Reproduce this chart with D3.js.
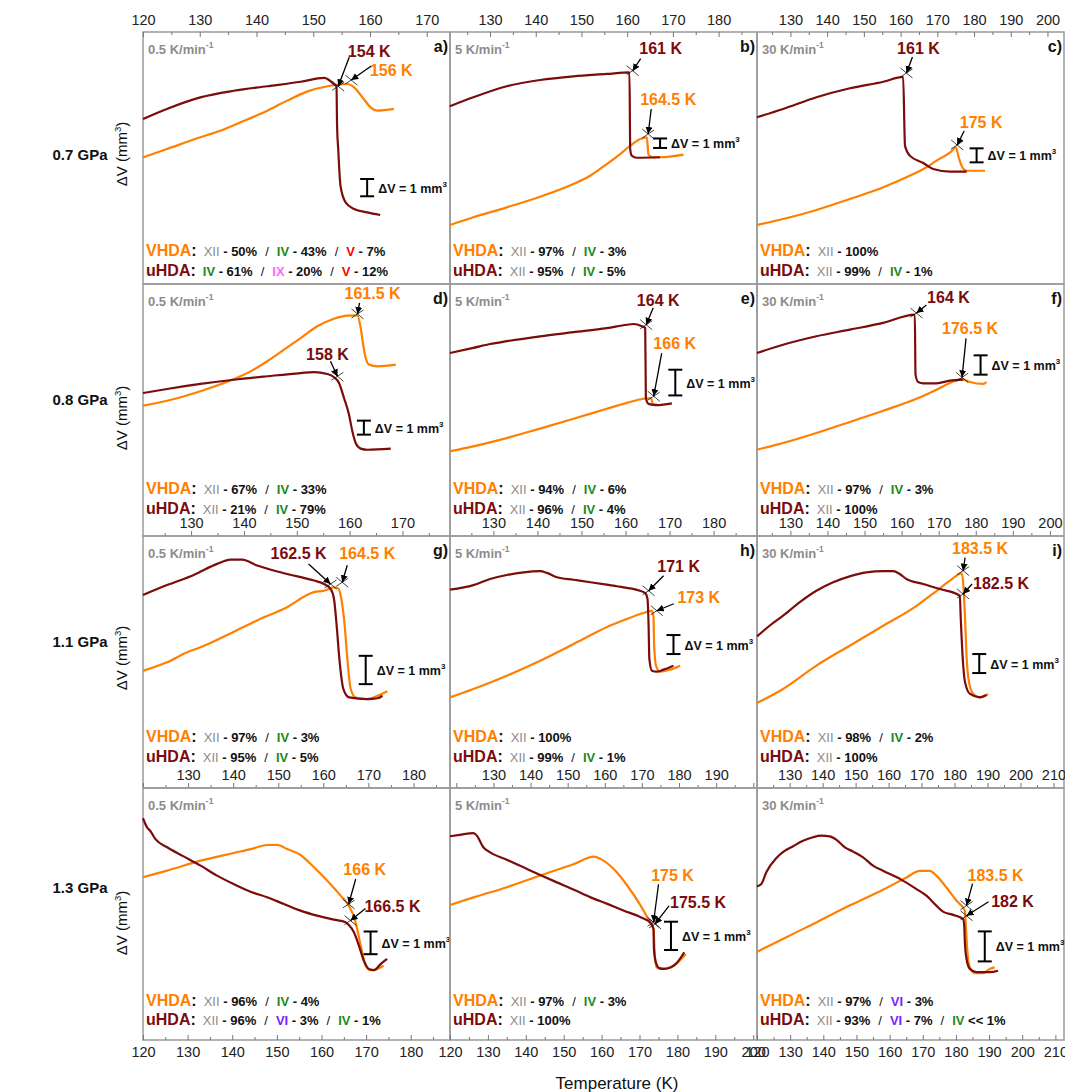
<!DOCTYPE html>
<html>
<head>
<meta charset="utf-8">
<script src="https://cdn.jsdelivr.net/npm/d3@7"></script>
<style>
body { margin: 0; background: #fff; }
svg text { font-family: "Liberation Sans", Arial, sans-serif; }
</style>
</head>
<body>
<div id="chart"></div>
<script>
// ---- data: [temperature K, relative volume change mm^3] ----
const a_uHDA = [[120,9.54],[124.2,10.12],[130.1,10.79],[136,11.17],[141.9,11.43],[147.8,11.69],[151.9,11.91],[153.6,11.56],[154.1,11.39],[154.2,9.15],[154.4,7.80],[154.8,5.68],[155.7,4.72],[157.2,4.34],[159.5,4.14],[161.8,3.99]];
const a_VHDA = [[120,7.32],[124.2,7.80],[130.1,8.48],[133.6,8.86],[137.2,9.35],[141.9,10.02],[145.4,10.60],[148.9,11.12],[152.5,11.43],[156,11.56],[157.2,11.37],[158.9,10.69],[160.1,10.21],[161.3,10.02],[164.2,10.12]];
const b_uHDA = [[121.2,18.71],[126.35,19.65],[133.65,20.81],[140.95,21.47],[148.25,21.86],[155.55,22.11],[160.5,22.28],[160.66,14.21],[161.0,13.51],[162.1,13.29],[167.2,13.34]];
const b_VHDA = [[121.2,6.21],[126.35,7.02],[133.65,8.07],[140.95,9.19],[148.25,10.53],[151.9,11.40],[155.55,12.63],[158.47,13.68],[160.66,14.56],[162.85,15.26],[164.3,15.44],[164.67,13.58],[165.77,13.34],[167.23,13.34],[172.34,13.61]];
const c_uHDA = [[120.9,11.91],[128,12.5],[137.1,13.34],[146.2,13.98],[155.3,14.45],[160.7,14.79],[161.2,9.88],[162.5,9.17],[166.2,8.64],[168.9,8.21],[173.5,8.02],[178,8.02]];
const c_VHDA = [[120.9,4.21],[128,4.64],[137.1,5.29],[146.2,6.07],[155.3,6.91],[161.6,7.62],[166.2,8.21],[169.8,8.81],[173.5,9.41],[175.1,9.76],[175.7,9.17],[176.6,8.45],[178,8.09],[183,8.09]];
const d_uHDA = [[120.9,10.21],[125.45,10.5],[131.77,10.86],[138.09,11.16],[144.41,11.41],[150.73,11.64],[153.25,11.71],[155.78,11.57],[157.05,11.34],[157.99,10.93],[158.94,9.86],[159.89,8.66],[160.52,7.48],[161.15,6.64],[162.1,6.24],[163.36,6.16],[167.79,6.24]];
const d_VHDA = [[120.9,9.31],[125.45,9.66],[131.77,10.34],[138.09,11.21],[141.25,11.76],[144.41,12.48],[147.57,13.31],[150.73,14.14],[153.89,14.98],[157.05,15.52],[159.57,15.74],[161.47,15.76],[162.1,14.86],[162.61,13.55],[163.05,12.71],[163.68,12.24],[165.26,12.12],[168.74,12.24]];
const e_uHDA = [[120.15,7.12],[125.45,7.32],[129.24,7.47],[133.03,7.58],[140.6,7.77],[148.18,7.93],[155.76,8.09],[160.3,8.22],[161.82,8.25],[163.71,8.16],[164.47,8.09],[164.62,5.37],[165.23,5.14],[167.12,5.09],[170.53,5.16]];
const e_VHDA = [[120.15,3.30],[125.45,3.49],[133.03,3.81],[140.6,4.18],[148.18,4.56],[155.76,4.95],[160.3,5.18],[164.09,5.34],[165.76,5.37],[166.21,5.14],[167.12,5.11]];
const f_uHDA = [[121,9.48],[128.02,9.91],[137.02,10.35],[146.02,10.69],[155.02,11.04],[163.57,11.47],[163.75,8.36],[164.47,7.98],[165.82,7.91],[169.42,7.91],[173.02,8.05],[176.62,8.10]];
const f_VHDA = [[121,4.47],[128.02,4.82],[137.02,5.34],[146.02,5.91],[155.02,6.49],[164.02,7.11],[169.42,7.58],[173.02,7.93],[176.17,8.13],[178.42,7.98],[182.02,7.88],[182.92,7.98]];
const g_uHDA = [[120,6.82],[125.33,7.17],[131.26,7.53],[136.44,7.92],[139.41,8.07],[142,8.07],[145.33,7.86],[151.26,7.59],[157.93,7.33],[160.15,7.21],[161.63,7.03],[162.37,6.68],[162.96,5.74],[163.56,4.56],[164.44,3.50],[165.7,3.20],[169.78,3.14],[172,3.17],[173.11,3.26]];
const g_VHDA = [[120,4.14],[125.33,4.44],[129.78,4.80],[132.74,4.97],[140.15,5.52],[146.81,6.03],[151.26,6.33],[157.93,6.92],[160.15,6.97],[162.37,7.09],[163.26,7.06],[164,6.68],[164.74,5.74],[165.33,4.56],[166.07,3.50],[167.19,3.20],[169.78,3.14],[172,3.26],[174.22,3.42]];
const h_uHDA = [[118.3,10.44],[124.6,10.68],[129.1,11.0],[133.6,11.21],[138.1,11.35],[142.6,11.41],[144.4,11.32],[147.1,11.09],[151.6,10.96],[156.1,10.83],[160.5,10.70],[165,10.56],[169.5,10.38],[170.9,10.26],[171.5,9.95],[171.8,8.54],[172.0,6.79],[172.7,6.17],[174,6.12],[175.8,6.23],[178.5,6.44]];
const h_VHDA = [[118.3,4.77],[124.6,5.21],[133.6,5.91],[142.6,6.70],[151.6,7.58],[160.5,8.46],[165.9,8.89],[170.4,9.21],[172.6,9.32],[173.1,9.07],[173.3,7.49],[173.8,6.44],[174.9,6.12],[177.6,6.23],[180.3,6.44]];
const i_uHDA = [[120.1,7.98],[123.9,8.54],[128,9.07],[133,9.77],[138.1,10.38],[143.2,10.83],[148.2,11.14],[153.3,11.35],[158.4,11.41],[161.4,11.41],[163.4,11.26],[165.4,11.0],[170.5,10.74],[175.6,10.47],[181.6,10.12],[181.9,8.89],[182.5,6.79],[183.2,5.56],[184.7,4.95],[187.7,4.77],[189.7,4.89]];
const i_VHDA = [[120.1,4.47],[128,5.21],[138.1,6.44],[148.2,7.49],[158.4,8.54],[168.5,9.59],[174.6,10.38],[178.6,10.91],[182.2,11.30],[182.7,10.65],[183.2,8.89],[183.7,6.79],[184.4,5.56],[185.7,4.95],[187.7,4.77],[190.2,4.95]];
const j_uHDA = [[120,9.77],[120.9,9.37],[121.6,9.22],[122.8,8.85],[125.4,8.49],[129.1,8.09],[132.9,7.68],[136.6,7.24],[140.3,6.87],[144.1,6.53],[147.8,6.29],[151.6,5.99],[155.3,5.70],[159,5.48],[162.8,5.30],[165.4,5.19],[166.1,5.07],[167.3,4.74],[168.4,4.15],[169.5,3.49],[170.6,3.13],[171.8,3.08],[173.3,3.35],[174.7,3.57]];
const j_VHDA = [[120,7.17],[125.4,7.46],[132.9,7.90],[140.3,8.24],[144.1,8.41],[147.8,8.59],[150.1,8.60],[152.3,8.41],[155.3,8.15],[158.3,7.61],[161.3,7.02],[164.3,6.36],[166.1,5.92],[167.3,5.41],[168,4.89],[168.8,4.15],[169.9,3.27],[171,3.08],[172.5,3.13],[173.9,3.27]];
const k_uHDA = [[120,7.20],[122.6,7.25],[126.2,7.31],[127.1,7.22],[128.8,6.81],[130.6,6.63],[135,6.37],[139.4,6.10],[143.8,5.83],[148.2,5.57],[152.7,5.31],[157.1,5.04],[161.5,4.81],[165.9,4.57],[170.3,4.34],[173,4.13],[173.7,3.92],[173.8,3.22],[174.3,2.75],[175.2,2.54],[176.5,2.51],[178.3,2.57],[180,2.75],[181.8,3.10]];
const k_VHDA = [[120,4.77],[126.2,5.04],[135,5.40],[143.8,5.81],[152.7,6.22],[158,6.48],[159.7,6.40],[163.2,6.04],[166.8,5.45],[170.3,4.75],[173,4.10],[173.7,3.92],[174,3.10],[174.5,2.57],[175.6,2.51],[178.3,2.57],[182.2,3.04]];
const l_uHDA = [[120,5.12],[121.3,5.20],[122.8,5.59],[125.8,6.06],[127.8,6.26],[130.9,6.46],[133.9,6.64],[136.9,6.76],[139.4,6.81],[141.9,6.79],[143.9,6.68],[146.5,6.42],[149,6.28],[152,6.09],[155,5.81],[158,5.64],[163.1,5.37],[168.1,5.03],[171.1,4.81],[174.1,4.48],[176.1,4.28],[179.2,4.17],[182.2,4.03],[182.5,3.81],[182.7,3.26],[183.2,2.70],[184.2,2.37],[186.2,2.26],[190.2,2.26],[192.7,2.31]];
const l_VHDA = [[120,2.94],[127.8,3.37],[137.9,3.92],[147.9,4.48],[158,5.01],[165.1,5.42],[169.1,5.64],[172.1,5.64],[174.1,5.48],[177.1,5.09],[180.2,4.64],[182.7,4.31],[183,3.81],[183.4,3.03],[184.2,2.42],[185.7,2.23],[188.2,2.23],[190.2,2.37],[191.7,2.42]];

// onset temperatures [uHDA, VHDA] in K
const onsetA = [154, 156], onsetB = [161, 164.5], onsetC = [161, 175];
const onsetD = [158, 161.5], onsetE = [164, 166], onsetF = [164, 176.5];
const onsetG = [162.5, 164.5], onsetH = [171, 173], onsetI = [182.5, 183.5];
const onsetJ = [166.5, 166], onsetK = [175.5, 175], onsetL = [182, 183.5];

// phase composition after transformation, panel order a..l
const phasesVHDA = [
  [['XII','50%'],['IV','43%'],['V','7%']], [['XII','97%'],['IV','3%']], [['XII','100%']],
  [['XII','67%'],['IV','33%']], [['XII','94%'],['IV','6%']], [['XII','97%'],['IV','3%']],
  [['XII','97%'],['IV','3%']], [['XII','100%']], [['XII','98%'],['IV','2%']],
  [['XII','96%'],['IV','4%']], [['XII','97%'],['IV','3%']], [['XII','97%'],['VI','3%']]
];
const phasesUHDA = [
  [['IV','61%'],['IX','20%'],['V','12%']], [['XII','95%'],['IV','5%']], [['XII','99%'],['IV','1%']],
  [['XII','21%'],['IV','79%']], [['XII','96%'],['IV','4%']], [['XII','100%']],
  [['XII','95%'],['IV','5%']], [['XII','99%'],['IV','1%']], [['XII','100%']],
  [['XII','96%'],['VI','3%'],['IV','1%']], [['XII','100%']], [['XII','93%'],['VI','7%'],['IV','<< 1%']]
];

const pressures = ['0.7 GPa', '0.8 GPa', '1.1 GPa', '1.3 GPa'];
const rates = ['0.5', '5', '30'];
const letters = ['a)','b)','c)','d)','e)','f)','g)','h)','i)','','',''];

// tick labels per panel
const ticksA = [120,130,140,150,160,170], ticksB = [130,140,150,160,170,180], ticksC = [130,140,150,160,170,180,190,200];
const ticksD = [130,140,150,160,170], ticksE = [130,140,150,160,170,180], ticksF = [130,140,150,160,170,180,190,200];
const ticksG = [130,140,150,160,170,180], ticksH = [130,140,150,160,170,180,190], ticksI = [130,140,150,160,170,180,190,200,210];
const ticksJ = [120,130,140,150,160,170,180], ticksK = [120,130,140,150,160,170,180,190,200], ticksL = [120,130,140,150,160,170,180,190,200,210];

// ---- layout ----
const X0 = 143, Y0 = 32, PW = 307, PH = 252;
const ORANGE = '#ff8000', MAROON = '#7b0c0c';
const PHASE_COL = {XII: '#8c8c8c', IV: '#1a8a1a', V: '#ff0000', IX: '#ff66ff', VI: '#7a1fff'};

// note: [targetT, targetV, labelDx, labelDy, tailDx, tailDy]
const panels = [
  {u:a_uHDA, v:a_VHDA, xDom:[120,174.1], k:17.3, ticks:ticksA, on:onsetA, bar:[159.5,5.07],
   nu:[154.4,11.43,31,-35,11,-29], nv:[156.7,11.79,40,-10,20,-14]},
  {u:b_uHDA, v:b_VHDA, xDom:[121.24,188.4], k:9.5, ticks:ticksB, on:onsetB, bar:[167.2,14.32],
   nu:[161.2,22.45,28,-22,8,-12], nv:[164.6,15.79,20,-35,3,-25]},
  {u:c_uHDA, v:c_VHDA, xDom:[120.9,204.5], k:14, ticks:ticksC, on:onsetC, bar:[180.7,8.69],
   nu:[161.6,15.07,12,-25,6,-16], nv:[175.4,9.93,24,-23,7,-14]},
  {u:d_uHDA, v:d_VHDA, xDom:[120.9,179.0], k:14, ticks:ticksD, on:onsetD, bar:[162.7,7.24],
   nu:[157.7,11.41,-10,-22,-7,-15], nv:[161.5,15.86,15,-21,2,-11]},
  {u:e_uHDA, v:e_VHDA, xDom:[120.15,189.85], k:25.7, ticks:ticksE, on:onsetE, bar:[171.3,5.47],
   nu:[164.7,8.22,12,-25,7,-17], nv:[166.4,5.44,21,-53,8,-43]},
  {u:f_uHDA, v:f_VHDA, xDom:[121.0,203.8], k:19.3, ticks:ticksF, on:onsetF, bar:[181.3,8.36],
   nu:[164.0,11.55,32,-16,10,-8], nv:[176.3,8.22,8,-49,4,-39]},
  {u:g_uHDA, v:g_VHDA, xDom:[120,188.1], k:28.3, ticks:ticksG, on:onsetG, bar:[169.4,3.67],
   nu:[161.6,7.21,-32,-31,-22,-20], nv:[164.2,7.27,25,-29,5,-17]},
  {u:h_uHDA, v:h_VHDA, xDom:[118.3,201], k:19, ticks:ticksH, on:onsetH, bar:[178.5,7.05],
   nu:[171.8,10.38,30,-25,15,-15], nv:[174.0,9.33,42,-13,17,-7]},
  {u:i_uHDA, v:i_VHDA, xDom:[120.1,213.2], k:19, ticks:ticksI, on:onsetI, bar:[187.5,6.05],
   nu:[182.6,10.21,38,-11,9,-10], nv:[182.6,11.44,17,-22,2,-13]},
  {u:j_uHDA, v:j_VHDA, xDom:[120,188.8], k:22.7, ticks:ticksJ, on:onsetJ, bar:[171.0,3.78],
   nu:[166.5,5.26,42,-14,15,-12], nv:[166.1,5.99,16,-35,7,-25]},
  {u:k_uHDA, v:k_VHDA, xDom:[120,201], k:28.3, ticks:ticksK, on:onsetK, bar:[178.3,3.18],
   nu:[174.1,4.10,43,-22,14,-18], nv:[173.7,4.16,19,-47,5,-38]},
  {u:l_uHDA, v:l_VHDA, xDom:[120,212.6], k:30, ticks:ticksL, on:onsetL, bar:[188.7,2.62],
   nu:[183.2,4.14,46,-15,22,-14], nv:[183.2,4.48,29,-30,6,-22]}
];

// phase text baselines relative to panel bottom, per row
const phaseBase = [[-28,-8],[-42,-22],[-46,-26],[-34,-15]];
const yLabelY = [154, 418, 658, 923];
const pressY = [155, 400, 642, 888];

const svg = d3.select('#chart').append('svg')
    .attr('width', 1065)
    .attr('height', 1092);

svg.append('defs').append('marker')
    .attr('id', 'arr')
    .attr('viewBox', '0 0 10 10')
    .attr('refX', 10).attr('refY', 5)
    .attr('markerWidth', 7).attr('markerHeight', 7)
    .attr('markerUnits', 'userSpaceOnUse')
    .attr('orient', 'auto')
    .append('path').attr('d', 'M0,0L10,5L0,10z').attr('fill', '#000');

function phaseLine(g, yb, name, color, items) {
    const t = g.append('text').attr('x', 3).attr('y', yb);
    t.append('tspan').text(name).attr('fill', color).attr('font-weight', 'bold').attr('font-size', 16);
    t.append('tspan').text(':').attr('fill', '#111').attr('font-weight', 'bold').attr('font-size', 16);
    items.forEach((it, i) => {
        if (i > 0) {
            t.append('tspan').attr('dx', 8).text('/').attr('font-size', 13).attr('fill', '#111');
        }
        t.append('tspan').attr('dx', i > 0 ? 8 : 7).text(it[0])
            .attr('font-size', 13).attr('fill', PHASE_COL[it[0]])
            .attr('font-weight', it[0] === 'XII' ? 'normal' : 'bold');
        const rest = it[1].startsWith('<<') ? '\u00a0' + it[1] : '\u00a0-\u00a0' + it[1];
        t.append('tspan').text(rest).attr('font-size', 13).attr('fill', '#111').attr('font-weight', 'bold');
    });
}

panels.forEach((p, idx) => {
    const row = Math.floor(idx / 3), col = idx % 3;
    const x0 = X0 + col * PW, y0 = Y0 + row * PH;
    const g = svg.append('g').attr('transform', `translate(${x0},${y0})`);

    const x = d3.scaleLinear().domain(p.xDom).range([0, PW]);
    const y = d3.scaleLinear().domain([0, PH / p.k]).range([PH, 0]);

    g.append('rect')
        .attr('width', PW).attr('height', PH)
        .attr('fill', 'none').attr('stroke', '#9a9a9a').attr('stroke-width', 1.5);

    // axes
    const minor = d3.range(Math.ceil(p.xDom[0] / 5) * 5, p.xDom[1], 5).filter(v => v % 10 !== 0);
    const major = d3.range(Math.ceil(p.xDom[0] / 10) * 10, p.xDom[1], 10);
    let ax, axMinor, ay;
    if (row === 0) {
        ax = d3.axisTop(x).tickSizeInner(-5).tickSizeOuter(0).tickPadding(7); ay = 0;
        axMinor = d3.axisTop(x).tickSizeInner(-3).tickSizeOuter(0);
    } else if (row === 3) {
        ax = d3.axisBottom(x).tickSizeInner(-5).tickSizeOuter(0).tickPadding(7); ay = PH;
        axMinor = d3.axisBottom(x).tickSizeInner(-3).tickSizeOuter(0);
    } else {
        ax = d3.axisTop(x).tickSizeInner(5).tickSizeOuter(0).tickPadding(3); ay = PH;
        axMinor = d3.axisTop(x).tickSizeInner(3).tickSizeOuter(0);
    }
    const axG = g.append('g').attr('transform', `translate(0,${ay})`)
        .call(ax.tickValues(major).tickFormat(v => p.ticks.includes(v) ? v : ''));
    axG.select('.domain').remove();
    axG.selectAll('line').attr('stroke', '#777');
    axG.selectAll('text').attr('font-size', 14.5).attr('fill', '#222')
        .attr('font-family', '"Liberation Sans", Arial, sans-serif');
    const mG = g.append('g').attr('transform', `translate(0,${ay})`)
        .call(axMinor.tickValues(minor).tickFormat(''));
    mG.select('.domain').remove();
    mG.selectAll('line').attr('stroke', '#777');

    // curves
    const line = d3.line().x(d => x(d[0])).y(d => y(d[1])).curve(d3.curveMonotoneX);
    g.append('path').datum(p.v).attr('d', line)
        .attr('fill', 'none').attr('stroke', ORANGE).attr('stroke-width', 2.2);
    g.append('path').datum(p.u).attr('d', line)
        .attr('fill', 'none').attr('stroke', MAROON).attr('stroke-width', 2.2);

    // onset notes
    [[p.nu, p.on[0], MAROON], [p.nv, p.on[1], ORANGE]].forEach(([n, T, color]) => {
        const tx = x(n[0]), ty = y(n[1]);
        g.append('line').attr('x1', tx - 6).attr('y1', ty - 5).attr('x2', tx + 6).attr('y2', ty + 5)
            .attr('stroke', '#111').attr('stroke-width', 0.8);
        g.append('line').attr('x1', tx - 6).attr('y1', ty + 4).attr('x2', tx + 6).attr('y2', ty - 4)
            .attr('stroke', '#111').attr('stroke-width', 0.8);
        g.append('line')
            .attr('x1', tx + n[4]).attr('y1', ty + n[5])
            .attr('x2', tx).attr('y2', ty)
            .attr('stroke', '#000').attr('stroke-width', 1.3)
            .attr('marker-end', 'url(#arr)');
        g.append('text')
            .attr('x', tx + n[2]).attr('y', ty + n[3]).attr('dy', '0.36em')
            .attr('text-anchor', 'middle')
            .attr('font-size', 16).attr('font-weight', 'bold').attr('fill', color)
            .text(`${T} K`);
    });

    // scale bar 1 mm^3
    const bx = x(p.bar[0]), b0 = y(p.bar[1]), b1 = y(p.bar[1] + 1);
    const bar = g.append('g').attr('stroke', '#000').attr('stroke-width', 2);
    bar.append('line').attr('x1', bx).attr('x2', bx).attr('y1', b0).attr('y2', b1);
    bar.append('line').attr('x1', bx - 7).attr('x2', bx + 7).attr('y1', b0).attr('y2', b0);
    bar.append('line').attr('x1', bx - 7).attr('x2', bx + 7).attr('y1', b1).attr('y2', b1);
    const bt = g.append('text').attr('x', bx + 11).attr('y', (b0 + b1) / 2 + 5)
        .attr('font-size', 12.5).attr('font-weight', 'bold').attr('fill', '#111');
    bt.append('tspan').text('\u0394V = 1 mm');
    bt.append('tspan').text('3').attr('font-size', 8).attr('dy', -6);

    // rate label & panel letter
    const rt = g.append('text').attr('x', 5).attr('y', 22)
        .attr('font-size', 13).attr('font-weight', 'bold').attr('fill', '#8c8c8c');
    rt.append('tspan').text(`${rates[col]} K/min`);
    rt.append('tspan').text('-1').attr('font-size', 8.5).attr('dy', -6);
    if (letters[idx]) {
        g.append('text').attr('x', PW - 2).attr('y', 20).attr('text-anchor', 'end')
            .attr('font-size', 16).attr('font-weight', 'bold').attr('fill', '#111')
            .text(letters[idx]);
    }

    // phase composition
    phaseLine(g, PH + phaseBase[row][0], 'VHDA', ORANGE, phasesVHDA[idx]);
    phaseLine(g, PH + phaseBase[row][1], 'uHDA', MAROON, phasesUHDA[idx]);
});

// row labels
pressures.forEach((pr, r) => {
    svg.append('text').attr('x', 80).attr('y', pressY[r] + 5).attr('text-anchor', 'middle')
        .attr('font-size', 15).attr('font-weight', 'bold').attr('fill', '#111').text(pr);
    const yl = svg.append('text')
        .attr('transform', `translate(127,${yLabelY[r]}) rotate(-90)`)
        .attr('text-anchor', 'middle').attr('font-size', 15).attr('fill', '#111');
    yl.append('tspan').text('\u0394V (mm');
    yl.append('tspan').text('3').attr('font-size', 9.5).attr('dy', -6);
    yl.append('tspan').text(')').attr('dy', 6);
});

svg.append('text').attr('x', 617).attr('y', 1089).attr('text-anchor', 'middle')
    .attr('font-size', 17).attr('fill', '#111').text('Temperature (K)');
</script>
</body>
</html>
